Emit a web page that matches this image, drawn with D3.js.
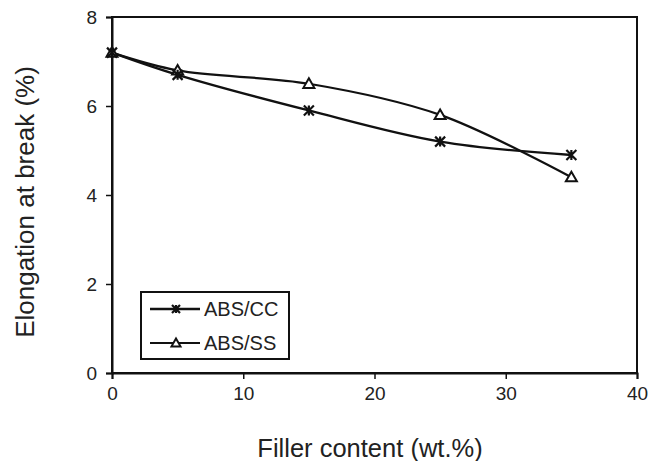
<!DOCTYPE html>
<html><head><meta charset="utf-8">
<script src="https://cdn.jsdelivr.net/npm/d3@7"></script>
<style>body{margin:0;background:#fff}svg{display:block}text{font-family:"Liberation Sans",Arial,sans-serif;fill:#222}</style>
</head><body>
<svg id="c" width="648" height="461"></svg>
<script>
const fillerContent = [0, 5, 15, 25, 35];
const absCC = [7.2, 6.7, 5.9, 5.2, 4.9];
const absSS = [7.2, 6.8, 6.5, 5.8, 4.4];
const seriesNames = ["ABS/CC", "ABS/SS"];
const xTicks = [0, 10, 20, 30, 40];
const yTicks = [0, 2, 4, 6, 8];

const svg = d3.select("#c");
const m = {l:112, r:637, t:17, b:373};
const x = d3.scaleLinear().domain([0,40]).range([m.l, m.r]);
const y = d3.scaleLinear().domain([0,8]).range([m.b, m.t]);

// frame
svg.append("rect").attr("x", m.l).attr("y", m.t).attr("width", m.r-m.l).attr("height", m.b-m.t)
  .attr("fill","none").attr("stroke","#111").attr("stroke-width",2);

const xa = svg.append("g").attr("transform",`translate(0,${m.b})`)
  .call(d3.axisBottom(x).tickValues(xTicks).tickSize(6).tickPadding(8));
const ya = svg.append("g").attr("transform",`translate(${m.l},0)`)
  .call(d3.axisLeft(y).tickValues(yTicks).tickSize(6).tickPadding(9));
[xa, ya].forEach(a => {
  a.select(".domain").attr("stroke","#111").attr("stroke-width",2);
  a.selectAll(".tick line").attr("stroke","#111").attr("stroke-width",1.5);
  a.selectAll(".tick text").style("font-size","19px").attr("fill","#222");
});
ya.selectAll(".tick text").attr("dy","0.36em");

svg.append("text").attr("x", 370).attr("y", 457).attr("text-anchor","middle")
  .style("font-size","25.5px").text("Filler content (wt.%)");
svg.append("text").attr("transform",`translate(34,202) rotate(-90)`).attr("text-anchor","middle")
  .style("font-size","26px").text("Elongation at break (%)");

const line = d3.line().x(d => x(d[0])).y(d => y(d[1])).curve(d3.curveCatmullRom.alpha(0.5));
const dataCC = fillerContent.map((v,i) => [v, absCC[i]]);
const dataSS = fillerContent.map((v,i) => [v, absSS[i]]);

svg.append("path").datum(dataSS).attr("d", line).attr("fill","none").attr("stroke","#111").attr("stroke-width",2.2);
svg.append("path").datum(dataCC).attr("d", line).attr("fill","none").attr("stroke","#111").attr("stroke-width",2.4);

function star(g, cx, cy, s) {
  g.append("path").attr("d",`M${cx-s},${cy-s}L${cx+s},${cy+s}M${cx-s},${cy+s}L${cx+s},${cy-s}M${cx},${cy-s}L${cx},${cy+s}`)
    .attr("stroke","#111").attr("stroke-width",2.2).attr("fill","none");
}
function tri(g, cx, cy, s) {
  g.append("path").attr("d",`M${cx},${cy-s}L${cx+s},${cy+s*0.75}L${cx-s},${cy+s*0.75}Z`)
    .attr("stroke","#111").attr("stroke-width",2).attr("fill","#fff");
}
const mg = svg.append("g");
dataSS.forEach(d => tri(mg, x(d[0]), y(d[1]), 5.5));
dataCC.forEach(d => star(mg, x(d[0]), y(d[1]), 5));

// legend
const lg = svg.append("g");
lg.append("rect").attr("x",141).attr("y",292).attr("width",148).attr("height",67)
  .attr("fill","#fff").attr("stroke","#111").attr("stroke-width",2);
lg.append("line").attr("x1",150).attr("x2",200).attr("y1",309).attr("y2",309).attr("stroke","#111").attr("stroke-width",2.5);
star(lg, 176, 309, 4);
lg.append("text").attr("x",204).attr("y",309).attr("dy","0.36em").style("font-size","20px").text(seriesNames[0]);
lg.append("line").attr("x1",150).attr("x2",200).attr("y1",343).attr("y2",343).attr("stroke","#111").attr("stroke-width",1.8);
tri(lg, 176, 343, 4.5);
lg.append("text").attr("x",204).attr("y",343).attr("dy","0.36em").style("font-size","20px").text(seriesNames[1]);
</script>
</body></html>
